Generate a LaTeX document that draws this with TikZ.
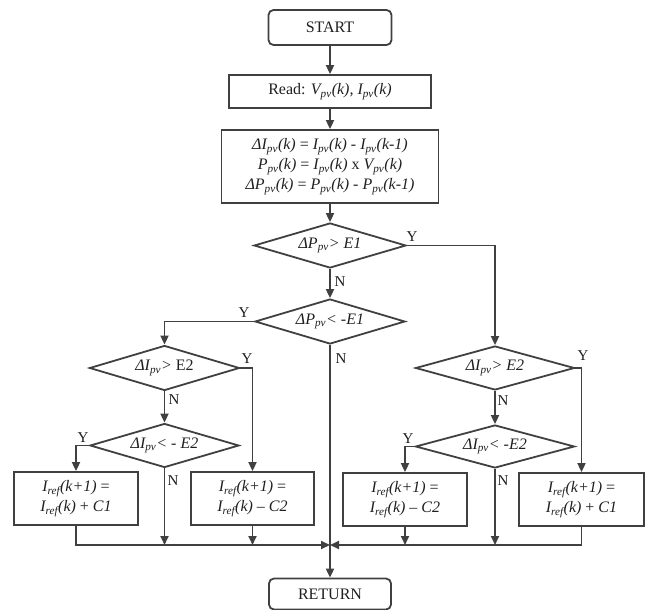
\documentclass[tikz,border=0pt]{standalone}
\usepackage{fontspec}
\setmainfont{Liberation Serif}
\usetikzlibrary{shapes.geometric,arrows.meta}
\newcommand{\pv}{\textsubscript{\textit{pv}}}
\newcommand{\rf}{\textsubscript{\textit{ref}}}
\begin{document}
\begin{tikzpicture}[x=1pt,y=-1pt,
  every node/.style={font=\fontsize{16}{20}\selectfont, text=black!88},
  ln/.style={draw=black!75, line width=1.8pt},
  arr/.style={ln, -{Triangle[length=9pt,width=8pt]}},
  procbox/.style={ln, rectangle, inner sep=0pt, align=center},
  termbox/.style={procbox, rounded corners=5pt},
  dec/.style={ln, diamond, aspect=4, inner sep=0pt, font=\fontsize{16}{18}\selectfont},
  lbl/.style={font=\fontsize{15}{15}\selectfont, inner sep=0pt}]
\useasboundingbox (0,0) rectangle (651,610);

\node[termbox, minimum width=123pt, minimum height=35pt] (start) at (330,27.5) {START};
\node[procbox, minimum width=202pt, minimum height=33pt] (read) at (330,91.5) {Read: \textit{V\pv(k), I\pv(k)}};
\node[procbox, minimum width=217pt, minimum height=73pt] (eq) at (330,166.5)
  {\textit{ΔI\pv(k)} = \textit{I\pv(k)} - \textit{I\pv(k-1)}\\
   \textit{P\pv(k)} = \textit{I\pv(k)} x \textit{V\pv(k)}\\
   \textit{ΔP\pv(k)} = \textit{P\pv(k)} - \textit{P\pv(k-1)}};

\node[dec, minimum width=152pt, minimum height=45pt] (d1) at (330,245.5) {\textit{ΔP\pv> E1}};
\node[dec, minimum width=150pt, minimum height=45pt] (d2) at (330,321.5) {\textit{ΔP\pv< -E1}};

\node[dec, minimum width=150pt, minimum height=45pt] (l1) at (164.5,368) {\textit{ΔI\pv>} E2};
\node[dec, minimum width=149pt, minimum height=44pt] (l2) at (164.5,445.5) {\textit{ΔI\pv< - E2}};
\node[dec, minimum width=159pt, minimum height=44pt] (r1) at (495,368) {\textit{ΔI\pv> E2}};
\node[dec, minimum width=159pt, minimum height=43pt] (r2) at (495,446.5) {\textit{ΔI\pv< -E2}};

\node[procbox, minimum width=124pt, minimum height=53pt] (b1) at (76,498.5) {\textit{I\rf(k+1)} =\\ \textit{I\rf(k)} + \textit{C1}};
\node[procbox, minimum width=123pt, minimum height=53pt] (b2) at (252.5,498.5) {\textit{I\rf(k+1)} =\\ \textit{I\rf(k)} – \textit{C2}};
\node[procbox, minimum width=124pt, minimum height=53pt] (b3) at (405,499.5) {\textit{I\rf(k+1)} =\\ \textit{I\rf(k)} – \textit{C2}};
\node[procbox, minimum width=125pt, minimum height=53pt] (b4) at (581.5,499.5) {\textit{I\rf(k+1)} =\\ \textit{I\rf(k)} + \textit{C1}};

\node[termbox, minimum width=122pt, minimum height=31pt] (ret) at (330,594) {RETURN};

\coordinate (mC) at (330,545);

\draw[arr] (start) -- (read);
\draw[arr] (read) -- (eq);
\draw[arr] (eq) -- (d1);
\draw[arr] (d1) -- (d2);
\draw[arr] (d1.east) -| (r1.north);
\draw[arr] (d2.west) -| (l1.north);
\draw[arr] (l1) -- (l2);
\draw[arr] (r1) -- (r2);
\draw[arr] (l1.east) -| (b2.north);
\draw[arr] (l2.west) -| (b1.north);
\draw[arr] (r2.west) -| (b3.north);
\draw[arr] (r1.east) -| (b4.north);

\draw[arr] (b1.south) |- (mC);
\draw[arr] (b4.south) |- (mC);
\draw[arr] (l2.south) -- (l2.south |- mC);
\draw[arr] (b2.south) -- (b2.south |- mC);
\draw[arr] (b3.south) -- (b3.south |- mC);
\draw[arr] (r2.south) -- (r2.south |- mC);
\draw[arr] (d2.south) -- (ret.north);

\node[lbl] at (412,237) {Y};
\node[lbl] at (340,282) {N};
\node[lbl] at (244,313) {Y};
\node[lbl] at (341,359) {N};
\node[lbl] at (247,359) {Y};
\node[lbl] at (174,400) {N};
\node[lbl] at (83,438) {Y};
\node[lbl] at (173,481) {N};
\node[lbl] at (583,356) {Y};
\node[lbl] at (503,401) {N};
\node[lbl] at (408,439) {Y};
\node[lbl] at (503,481) {N};
\end{tikzpicture}
\end{document}
